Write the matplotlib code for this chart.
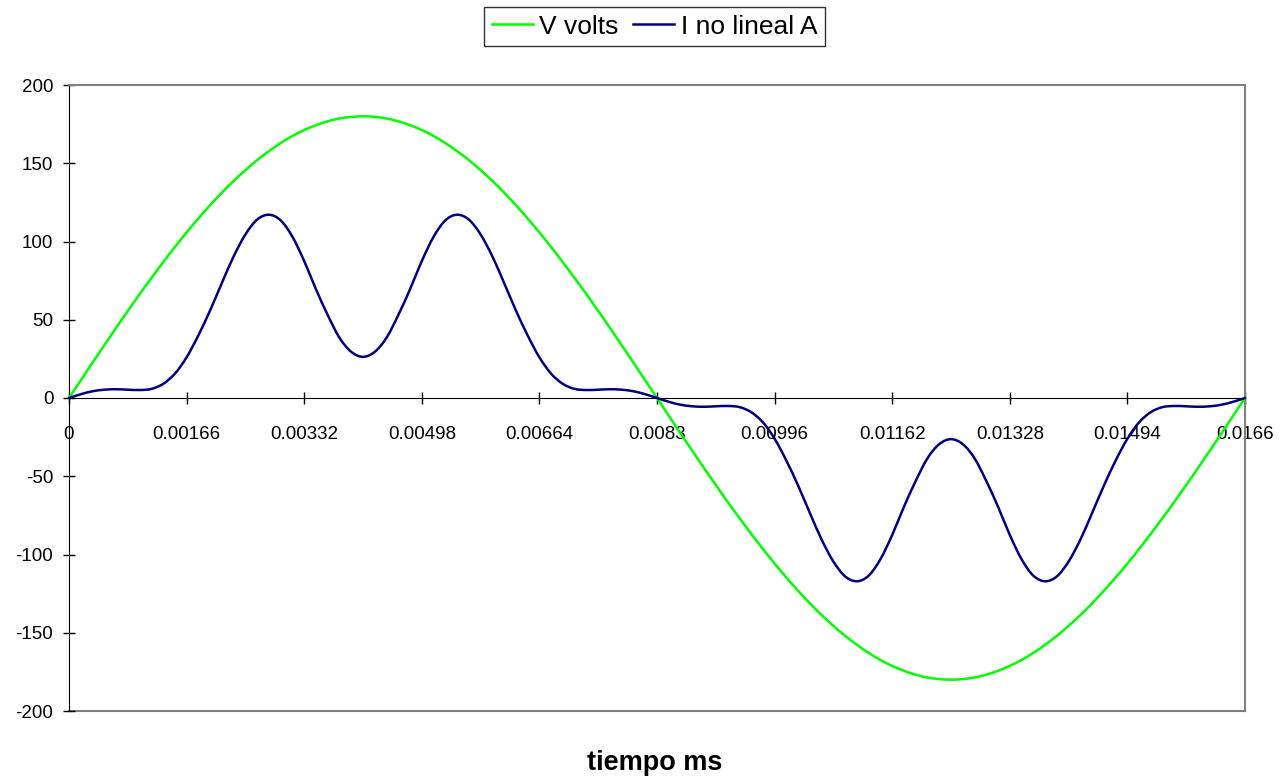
import numpy as np
import matplotlib
matplotlib.use('Agg')
import matplotlib.pyplot as plt
from matplotlib.path import Path
import matplotlib.patches as patches
from matplotlib.lines import Line2D

plt.rcParams['font.family'] = ['Liberation Sans', 'DejaVu Sans']

# tiempo (s), paso 0.000166 -> 100 intervalos en un periodo
tiempo = np.round(np.arange(101) * 0.000166, 6)

v_volts = [
    0.0, 11.3, 22.6, 33.7, 44.8, 55.6, 66.3, 76.6, 86.7, 96.4,
    105.8, 114.7, 123.2, 131.2, 138.7, 145.6, 152.0, 157.7, 162.9, 167.4,
    171.2, 174.3, 176.8, 178.6, 179.6, 180.0, 179.6, 178.6, 176.8, 174.3,
    171.2, 167.4, 162.9, 157.7, 152.0, 145.6, 138.7, 131.2, 123.2, 114.7,
    105.8, 96.4, 86.7, 76.6, 66.3, 55.6, 44.8, 33.7, 22.6, 11.3,
    0.0, -11.3, -22.6, -33.7, -44.8, -55.6, -66.3, -76.6, -86.7, -96.4,
    -105.8, -114.7, -123.2, -131.2, -138.7, -145.6, -152.0, -157.7, -162.9, -167.4,
    -171.2, -174.3, -176.8, -178.6, -179.6, -180.0, -179.6, -178.6, -176.8, -174.3,
    -171.2, -167.4, -162.9, -157.7, -152.0, -145.6, -138.7, -131.2, -123.2, -114.7,
    -105.8, -96.4, -86.7, -76.6, -66.3, -55.6, -44.8, -33.7, -22.6, -11.3,
    0.0,
]

i_no_lineal = [
    0.0, 2.4, 4.3, 5.3, 5.6, 5.3, 5.1, 5.8, 9.0, 15.5,
    26.0, 40.0, 56.0, 73.5, 90.5, 104.5, 114.0, 117.1, 113.5, 103.0,
    87.5, 69.5, 53.0, 38.5, 29.5, 26.3, 29.5, 38.5, 53.0, 69.5,
    87.5, 103.0, 113.5, 117.1, 114.0, 104.5, 90.5, 73.5, 56.0, 40.0,
    26.0, 15.5, 9.0, 5.8, 5.1, 5.3, 5.6, 5.3, 4.3, 2.4,
    0.0, -2.4, -4.3, -5.3, -5.6, -5.3, -5.1, -5.8, -9.0, -15.5,
    -26.0, -40.0, -56.0, -73.5, -90.5, -104.5, -114.0, -117.1, -113.5, -103.0,
    -87.5, -69.5, -53.0, -38.5, -29.5, -26.3, -29.5, -38.5, -53.0, -69.5,
    -87.5, -103.0, -113.5, -117.1, -114.0, -104.5, -90.5, -73.5, -56.0, -40.0,
    -26.0, -15.5, -9.0, -5.8, -5.1, -5.3, -5.6, -5.3, -4.3, -2.4,
    0.0,
]

x_ticks = [0, 0.00166, 0.00332, 0.00498, 0.00664, 0.0083, 0.00996,
           0.01162, 0.01328, 0.01494, 0.0166]
x_labels = ['0', '0.00166', '0.00332', '0.00498', '0.00664', '0.0083',
            '0.00996', '0.01162', '0.01328', '0.01494', '0.0166']
y_ticks = [-200, -150, -100, -50, 0, 50, 100, 150, 200]

verde = '#00FF00'
azul = '#000080'


def linea_suave(ax, x, y, color, lw, z):
    # linea suavizada tipo Excel: curvas Bezier por los puntos (Catmull-Rom)
    x = np.asarray(x, float)
    y = np.asarray(y, float)
    xp = np.concatenate([[x[0]], x, [x[-1]]])
    yp = np.concatenate([[y[0]], y, [y[-1]]])
    verts = [(x[0], y[0])]
    codes = [Path.MOVETO]
    for k in range(1, len(xp) - 2):
        c1 = (xp[k] + (xp[k + 1] - xp[k - 1]) / 6, yp[k] + (yp[k + 1] - yp[k - 1]) / 6)
        c2 = (xp[k + 1] - (xp[k + 2] - xp[k]) / 6, yp[k + 1] - (yp[k + 2] - yp[k]) / 6)
        verts += [c1, c2, (xp[k + 1], yp[k + 1])]
        codes += [Path.CURVE4] * 3
    p = patches.PathPatch(Path(verts, codes), fill=False, edgecolor=color, lw=lw,
                          clip_on=False, zorder=z, capstyle='round', joinstyle='round')
    ax.add_patch(p)


fig = plt.figure(figsize=(12.87, 7.76), dpi=100)
ax = fig.add_axes([69 / 1287, 1 - 711 / 776, (1245 - 69) / 1287, (711 - 85) / 776])

linea_suave(ax, tiempo, v_volts, verde, 1.8, 3)
linea_suave(ax, tiempo, i_no_lineal, azul, 1.8, 4)

ax.set_xlim(0, 0.0166)
ax.set_ylim(-200, 200)

# eje x en cero, marco gris
ax.spines['bottom'].set_position(('data', 0))
ax.spines['bottom'].set_color('black')
ax.spines['left'].set_color('black')
for s in ['top', 'right']:
    ax.spines[s].set_color('#808080')
    ax.spines[s].set_linewidth(1.5)
ax.axhline(-200, color='#808080', lw=1.5, clip_on=False, zorder=1)

ax.set_xticks(x_ticks)
ax.set_xticklabels(x_labels)
ax.set_yticks(y_ticks)
ax.set_yticklabels([str(v) for v in y_ticks])
ax.tick_params(axis='x', direction='inout', length=8.5, width=1, pad=16, labelsize=13.5)
ax.tick_params(axis='y', direction='inout', length=8.5, width=1, pad=7, labelsize=13.5)

fig.text(655 / 1287, 1 - 763 / 776, 'tiempo ms', ha='center', va='center',
         fontsize=19.5, fontweight='bold')

handles = [Line2D([], [], color=verde, lw=1.8), Line2D([], [], color=azul, lw=1.8)]
leg = fig.legend(handles, ['V volts', 'I no lineal A'], loc='center',
                 bbox_to_anchor=(654.5 / 1287, 1 - 26.5 / 776), ncol=2,
                 fontsize=19, frameon=True, fancybox=False, handlelength=1.55,
                 handletextpad=0.25, columnspacing=0.55, borderpad=0.3,
                 borderaxespad=0)
leg.get_frame().set_edgecolor('black')
leg.get_frame().set_linewidth(1)

fig.savefig('out.png', dpi=100)
